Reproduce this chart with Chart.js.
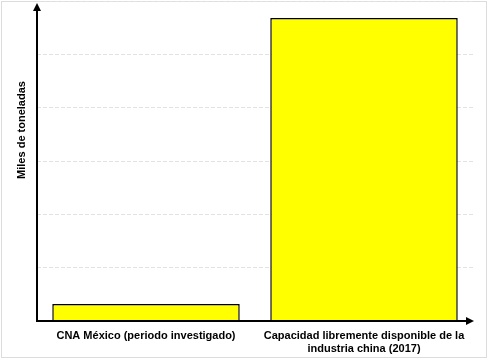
<!DOCTYPE html>
<html>
<head>
<meta charset="utf-8">
<script src="https://cdn.jsdelivr.net/npm/chart.js@4.4.1/dist/chart.umd.min.js"></script>
<style>
  html, body { margin: 0; padding: 0; background: #fff; }
  #wrap { width: 489px; height: 361px; position: relative; }
</style>
</head>
<body>
<div id="wrap"><canvas id="chart"></canvas></div>
<script>
// datos (miles de toneladas, escala relativa)
const categorias = ['CNA México (periodo investigado)', ['Capacidad libremente disponible de la', 'industria china (2017)']];
const valores = [0.32, 5.68];
const yMax = 6;
const tituloY = 'Miles de toneladas';

// ejes con flecha, marco exterior y título del eje Y
const decoracion = {
    id: 'decoracion',
    beforeDraw(chart) {
        const ctx = chart.ctx;
        ctx.save();
        ctx.strokeStyle = '#dcdcdc';
        ctx.lineWidth = 1;
        ctx.strokeRect(1.5, 1.5, 485, 356);
        ctx.restore();
    },
    afterDraw(chart) {
        const { ctx, chartArea: a } = chart;
        const x0 = Math.round(a.left), y0 = Math.round(a.bottom);
        ctx.save();
        ctx.strokeStyle = '#000';
        ctx.fillStyle = '#000';
        ctx.lineWidth = 2;
        // eje Y
        ctx.beginPath();
        ctx.moveTo(x0, y0 + 1);
        ctx.lineTo(x0, 10);
        ctx.stroke();
        ctx.beginPath();
        ctx.moveTo(x0, 3);
        ctx.lineTo(x0 - 4, 11);
        ctx.lineTo(x0 + 4, 11);
        ctx.closePath();
        ctx.fill();
        // eje X
        ctx.beginPath();
        ctx.moveTo(x0 - 1, y0);
        ctx.lineTo(a.right - 6, y0);
        ctx.stroke();
        ctx.beginPath();
        ctx.moveTo(a.right + 1, y0);
        ctx.lineTo(a.right - 7, y0 - 4);
        ctx.lineTo(a.right - 7, y0 + 4);
        ctx.closePath();
        ctx.fill();
        // título Y
        ctx.translate(22, 130);
        ctx.rotate(-Math.PI / 2);
        ctx.font = 'bold 11px "Liberation Sans", Arial, sans-serif';
        ctx.textAlign = 'center';
        ctx.textBaseline = 'middle';
        ctx.fillText(tituloY, 0, 0);
        ctx.restore();
    }
};

new Chart(document.getElementById('chart'), {
    type: 'bar',
    data: {
        labels: categorias,
        datasets: [{
            data: valores,
            backgroundColor: '#ffff00',
            borderColor: '#000',
            borderWidth: 1.5,
            barPercentage: 0.86,
            categoryPercentage: 1
        }]
    },
    options: {
        responsive: true,
        maintainAspectRatio: false,
        animation: false,
        layout: { padding: { top: 1, right: 16, bottom: 0, left: 0 } },
        plugins: { legend: { display: false }, tooltip: { enabled: false } },
        scales: {
            x: {
                grid: { display: false, drawTicks: false },
                border: { display: false },
                ticks: {
                    color: '#000',
                    padding: 8,
                    maxRotation: 0,
                    autoSkip: false,
                    font: { family: '"Liberation Sans", Arial, sans-serif', size: 11, weight: 'bold' }
                },
                afterFit(s) { s.height = 40; }
            },
            y: {
                min: 0,
                max: yMax,
                ticks: { display: false, stepSize: 1 },
                grid: { color: '#e2e2e2', drawTicks: false },
                border: { display: false, dash: [4, 2] },
                afterFit(s) { s.width = 37; }
            }
        }
    },
    plugins: [decoracion]
});
</script>
</body>
</html>
